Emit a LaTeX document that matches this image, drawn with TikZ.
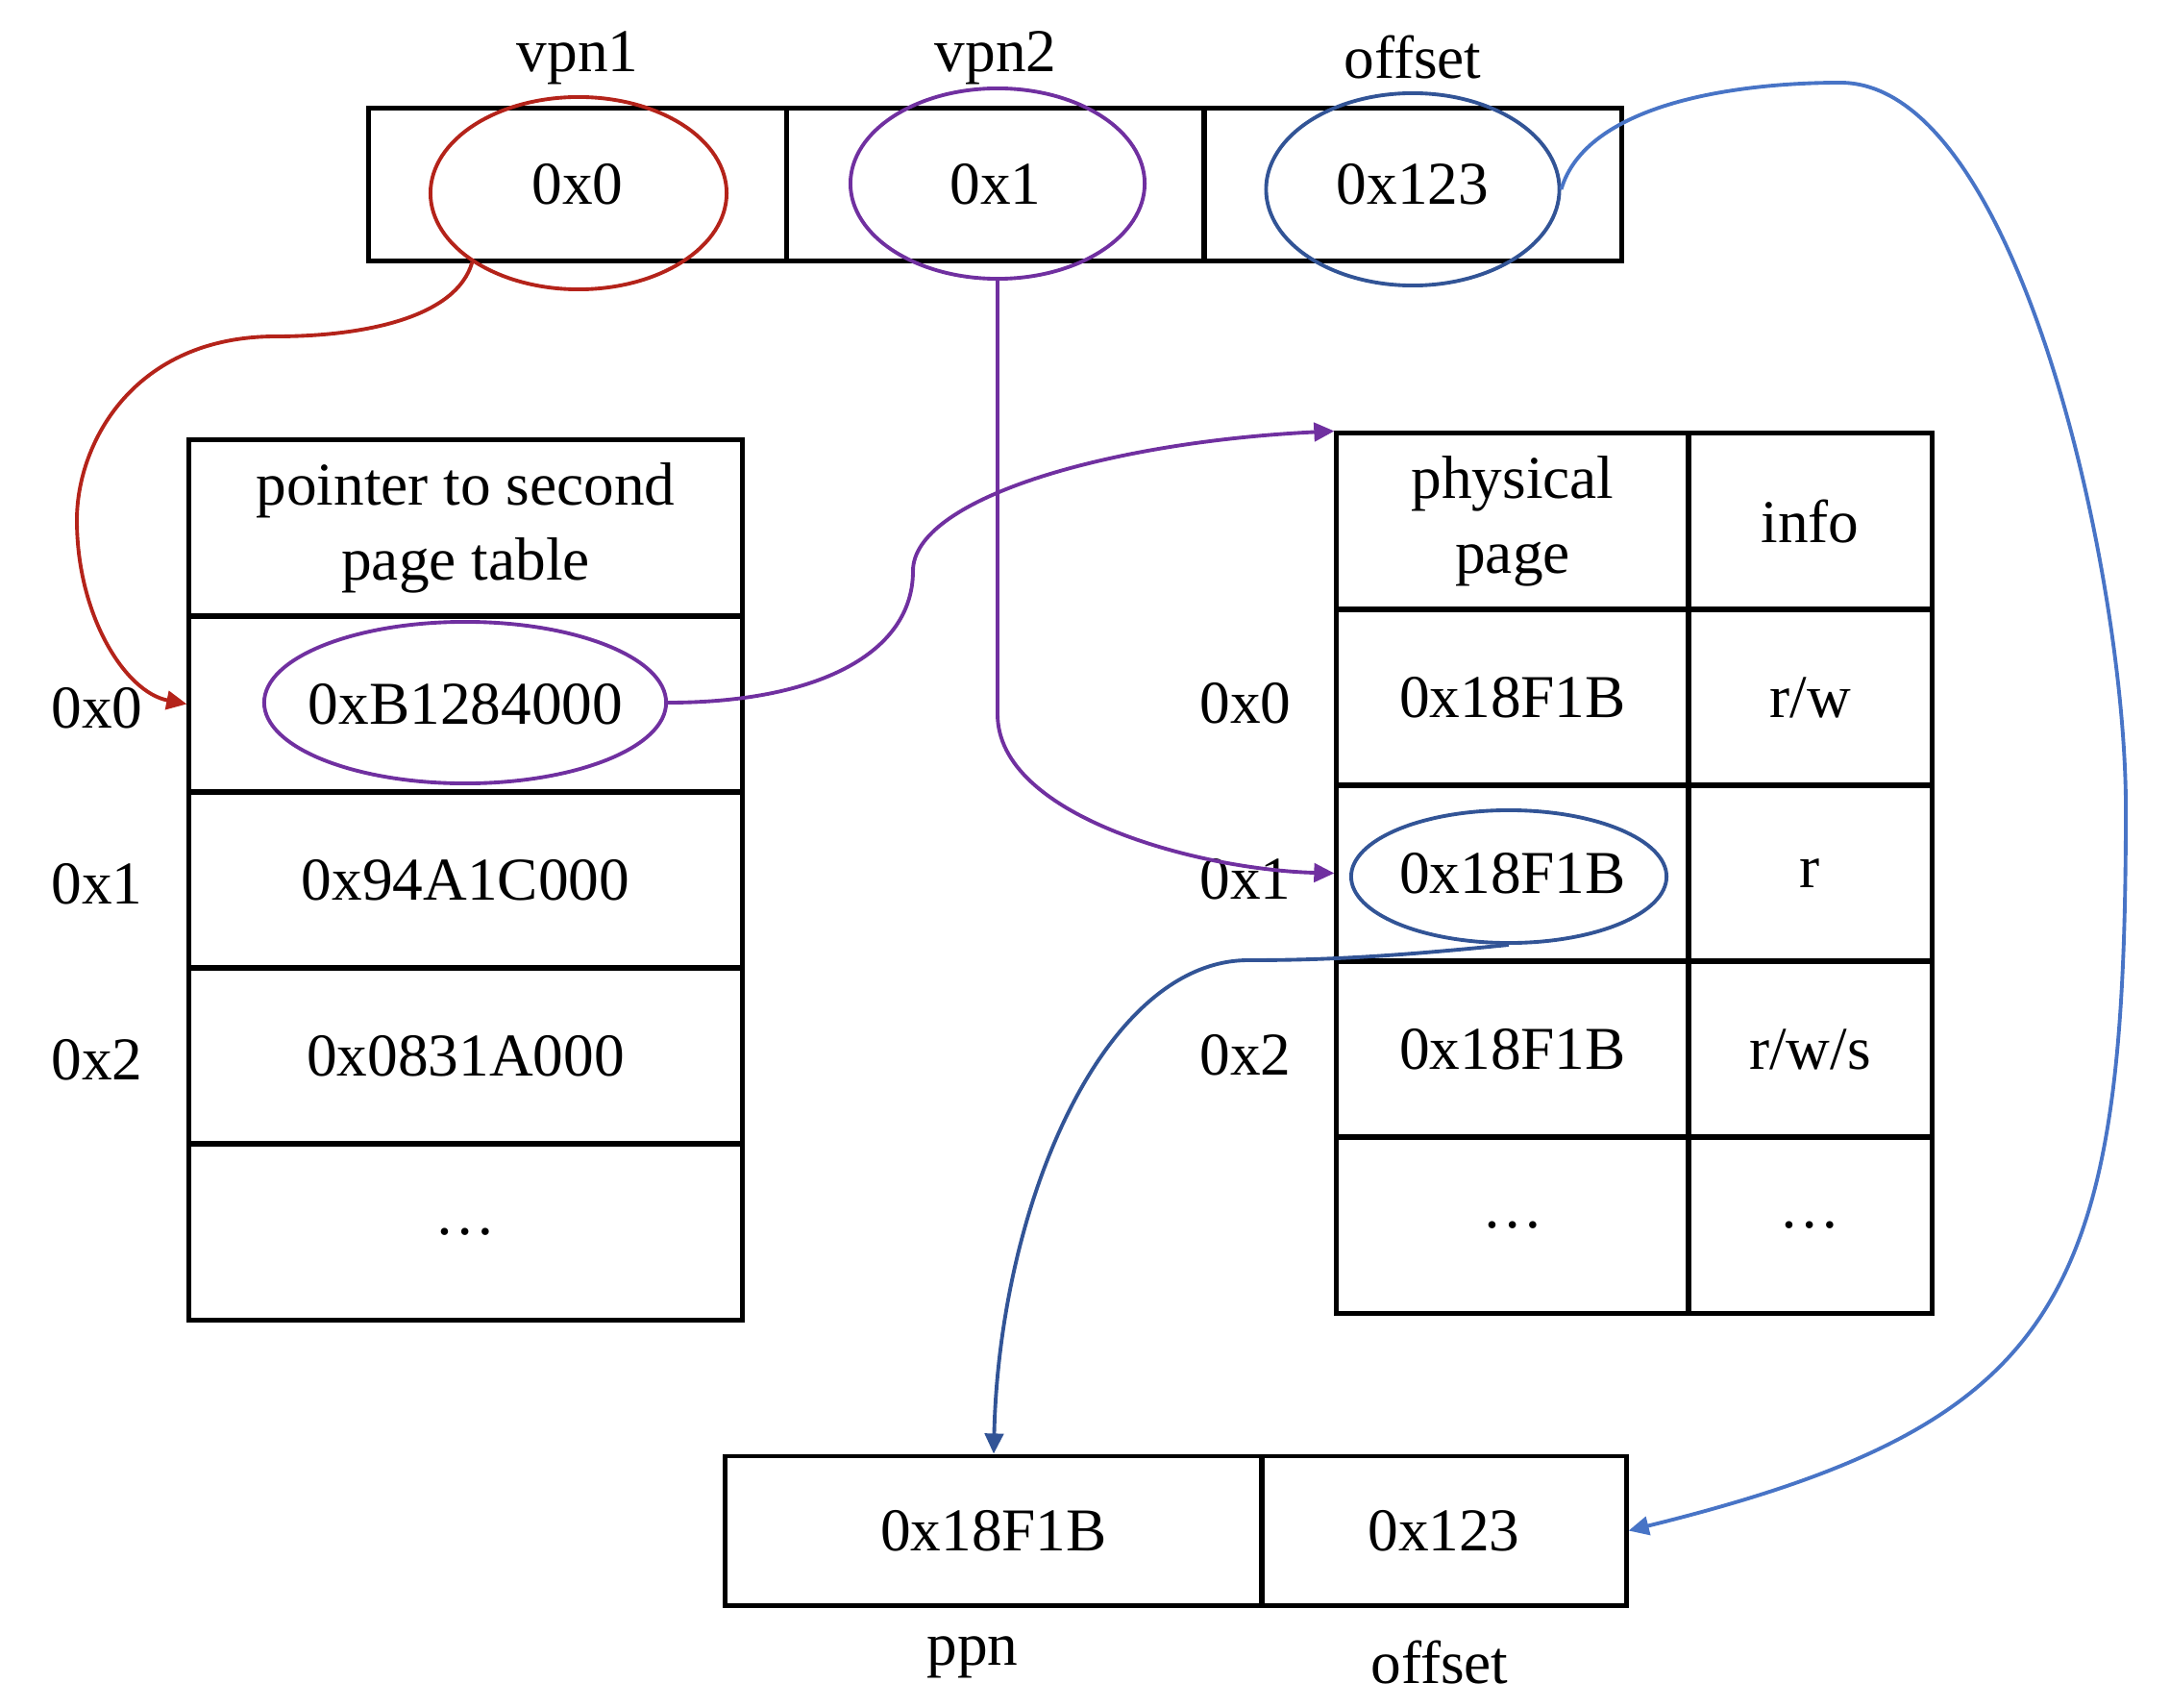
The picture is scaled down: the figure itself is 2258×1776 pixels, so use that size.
\documentclass[tikz,border=0pt]{standalone}
\usepackage{fontspec}
\setmainfont{Liberation Serif}
\usepackage{xcolor}
\usepackage{tikz}
\usetikzlibrary{arrows.meta,shapes.geometric}
\definecolor{cred}{RGB}{180,35,26}
\definecolor{cpur}{RGB}{112,48,160}
\definecolor{cdblue}{RGB}{50,84,150}
\definecolor{clblue}{RGB}{72,116,198}
\tikzset{
  cell/.style={draw,line width=1.4pt,inner sep=0pt,align=center},
  oval/.style={ellipse,draw,line width=1.1pt,inner sep=0pt},
  link/.style={line width=1.1pt,-{Triangle[length=6pt,width=5.5pt]}}
}

\begin{document}
\begin{tikzpicture}[x=0.01cm,y=-0.01cm,font=\fontsize{18}{22}\selectfont]
  \useasboundingbox (0,0) rectangle (2258,1776);
  % virtual address
  \foreach \n/\x/\t/\l in {vA/601/0x0/vpn1,vB/1036/0x1/vpn2,vC/1470/0x123/offset} {
    \node[cell,minimum width=4.35cm,minimum height=1.58cm] (\n) at (\x,192) {\t};
    \node (\n lbl) at (\x,60) {\l};
  }
  \node[oval,cred,minimum width=3.08cm,minimum height=2cm] (redE) at (602,201) {};
  \node[oval,cpur,minimum width=3.06cm,minimum height=1.98cm] (purpE) at (1038,191) {};
  \node[oval,cdblue,minimum width=3.05cm,minimum height=2cm] (bluE) at (1470,197) {};
  % first level table
  \node[cell,minimum width=5.75cm,minimum height=1.83cm] (pHead) at (484.5,549.5)
    {pointer to second\\page table};
  \foreach \t [count=\i from 0] in {0xB1284000,0x94A1C000,0x0831A000,\dots} {
    \node[cell,minimum width=5.75cm,minimum height=1.83cm] (p\i) at (484.5,549.5+183*\i+183) {\t};
  }
  \foreach \i in {0,1,2}
    \node (pl\i) at (101,737+183*\i) {0x\i};
  \node[oval,cpur,minimum width=4.18cm,minimum height=1.68cm] (ptrE) at (484,731) {};
  % second level table
  \node[cell,minimum width=3.66cm,minimum height=1.83cm] (hdrA) at (1574,542.5) {physical\\page};
  \node[cell,minimum width=2.53cm,minimum height=1.83cm] (hdrB) at (1883.5,542.5) {info};
  \foreach \t/\u [count=\i from 0] in {0x18F1B/r\slash w,0x18F1B/r,0x18F1B/r\slash w\slash s,\dots/\dots} {
    \node[cell,minimum width=3.66cm,minimum height=1.83cm] (f\i) at (1574,542.5+183*\i+183) {\t};
    \node[cell,minimum width=2.53cm,minimum height=1.83cm] (g\i) at (1883.5,542.5+183*\i+183) {\u};
  }
  \foreach \i in {0,1,2}
    \node (fl\i) at (1296,732+183*\i) {0x\i};
  \node[oval,cdblue,minimum width=3.28cm,minimum height=1.38cm] (frmE) at (1570,912) {};
  % physical address
  \node[cell,minimum width=5.58cm,minimum height=1.55cm] (ppn) at (1034,1592.5) {0x18F1B};
  \node[cell,minimum width=3.79cm,minimum height=1.55cm] (offB) at (1502.5,1592.5) {0x123};
  \node (ppnlbl) at (1012,1724) {ppn};
  \node (offlbl) at (1498,1730) {offset};
  % connectors
  \draw[link,cred] (redE.213) .. controls (475,330) and (380,350) .. (287,350)
    .. controls (140,350) and (80,460) .. (80,541)
    .. controls (80,640) and (130,720) .. (p0.west);
  \draw[link,cpur] (ptrE.east) .. controls (850,731) and (950,680) .. (950,594)
    .. controls (950,520) and (1150,460) .. (hdrA.north west);
  \draw[link,cpur] (purpE.south) -- (1038,743)
    .. controls (1038,850) and (1250,905) .. (f1.west);
  \draw[link,cdblue] (frmE.south) .. controls (1450,995) and (1380,999) .. (1299,999)
    .. controls (1150,999) and (1040,1250) .. (ppn.north);
  \draw[link,clblue] (bluE.east) .. controls (1650,110) and (1800,86) .. (1915,86)
    .. controls (2100,86) and (2212,600) .. (2212,840)
    .. controls (2212,1350) and (2150,1480) .. (offB.east);
\end{tikzpicture}
\end{document}
